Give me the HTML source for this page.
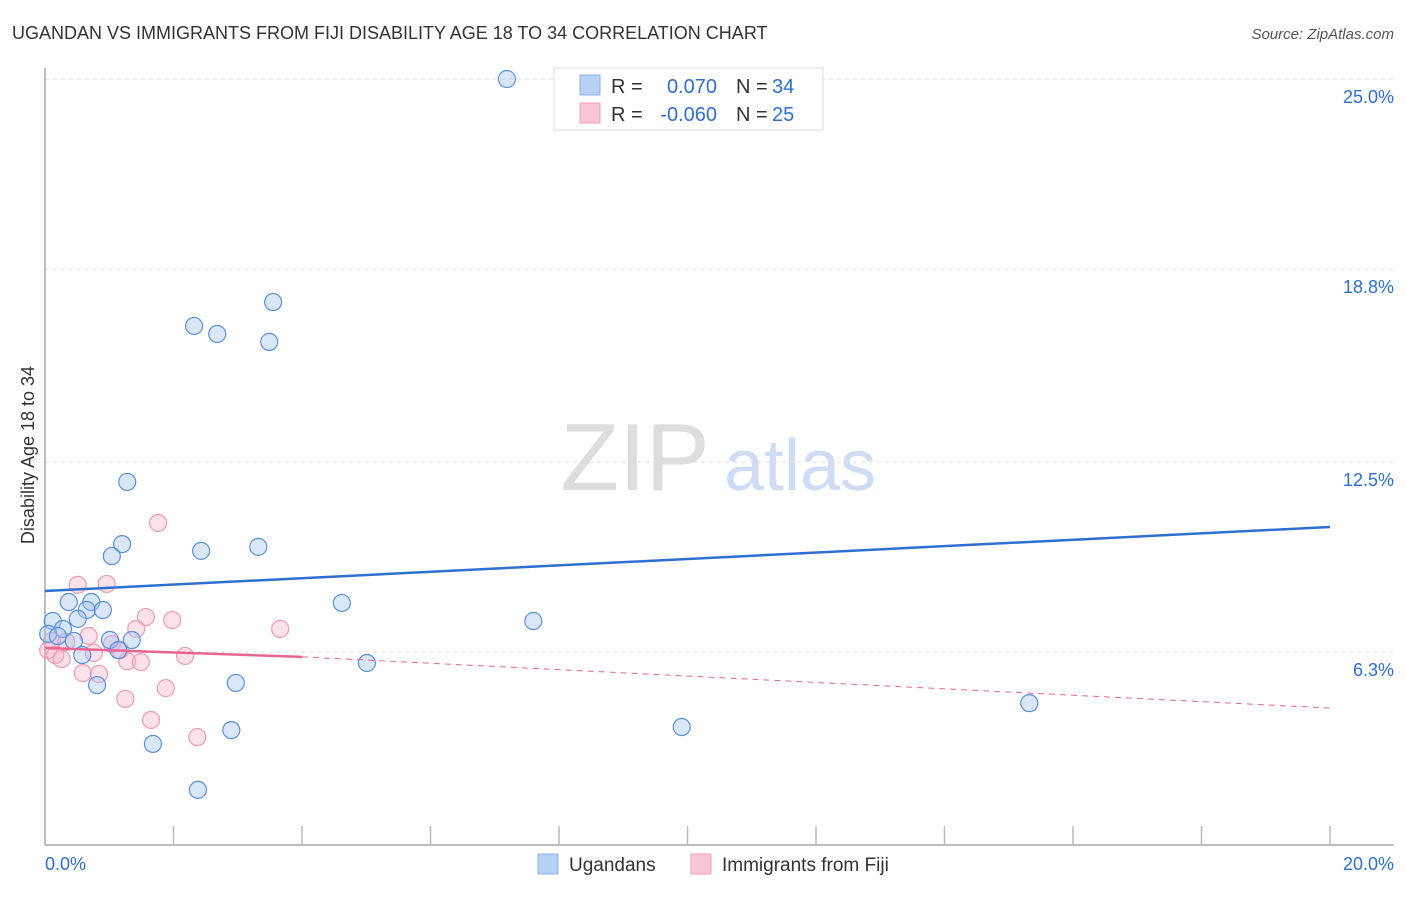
<!DOCTYPE html>
<html><head><meta charset="utf-8"><style>
body{margin:0;background:#fff;font-family:"Liberation Sans",sans-serif;}
svg text{font-family:"Liberation Sans",sans-serif;}
</style></head><body>
<svg id="c" width="1406" height="892" xmlns="http://www.w3.org/2000/svg">
<text x="12" y="39" font-size="18" fill="#333">UGANDAN VS IMMIGRANTS FROM FIJI DISABILITY AGE 18 TO 34 CORRELATION CHART</text>
<text x="1394" y="39" font-size="15" fill="#555" font-style="italic" text-anchor="end">Source: ZipAtlas.com</text>
<text x="34" y="455" font-size="18" fill="#333" text-anchor="middle" transform="rotate(-90 34 455)">Disability Age 18 to 34</text>
<g>
<text x="635" y="490" font-size="96" fill="#ddd" font-family="Liberation Serif" text-anchor="middle">ZIP</text>
<text x="800" y="490" font-size="72" fill="#cfdcf3" text-anchor="middle">atlas</text>
</g>
<g id="grid"></g><g id="axes"></g><g id="marks"></g>
<g>
<rect x="554" y="68" width="269" height="62" fill="#fff" stroke="#ddd"/>
<rect x="580" y="75" width="20" height="20" fill="#b7d1f5" stroke="#8ab0e8"/>
<rect x="580" y="103" width="20" height="20" fill="#f9c6d5" stroke="#f0a0b8"/>
<text x="611" y="93" font-size="20" fill="#333">R =</text><text x="717" y="93" font-size="20" fill="#2f6fd0" text-anchor="end">0.070</text>
<text x="736" y="93" font-size="20" fill="#333">N =</text><text x="772" y="93" font-size="20" fill="#2f6fd0">34</text>
<text x="611" y="121" font-size="20" fill="#333">R =</text><text x="717" y="121" font-size="20" fill="#2f6fd0" text-anchor="end">-0.060</text>
<text x="736" y="121" font-size="20" fill="#333">N =</text><text x="772" y="121" font-size="20" fill="#2f6fd0">25</text>
</g>
<g>
<rect x="538" y="854" width="20" height="20" fill="#b7d1f5" stroke="#8ab0e8"/>
<text x="569" y="871" font-size="19" fill="#333">Ugandans</text>
<rect x="691" y="854" width="20" height="20" fill="#f9c6d5" stroke="#f0a0b8"/>
<text x="722" y="871" font-size="19" fill="#333">Immigrants from Fiji</text>
</g>
</svg>
<script>
const yTicks=[25.0,18.8,12.5,6.3];
const yTickLabels=["25.0%","18.8%","12.5%","6.3%"];
const xTickLabels=["0.0%","20.0%"];
const blueX=[7.19,3.55,2.32,2.68,3.49,1.28,1.20,1.04,2.43,3.32,0.37,0.72,4.62,0.65,0.90,0.51,7.60,0.12,0.28,0.05,0.20,0.45,1.01,1.35,1.14,0.58,5.01,0.81,2.97,9.91,15.32,1.68,2.90,2.38];
const blueY=[25.0,17.72,16.94,16.68,16.42,11.85,9.82,9.43,9.60,9.73,7.93,7.93,7.90,7.67,7.67,7.38,7.31,7.31,7.05,6.89,6.82,6.66,6.69,6.69,6.36,6.20,5.94,5.22,5.29,3.85,4.63,3.30,3.75,1.80];
const pinkX=[1.76,0.51,0.96,1.57,1.98,1.42,3.66,0.68,0.11,0.33,1.04,0.05,0.76,1.17,0.16,0.26,2.18,1.28,1.49,0.59,0.84,1.88,1.25,1.65,2.37];
const pinkY=[10.51,8.49,8.52,7.44,7.34,7.05,7.05,6.82,6.66,6.63,6.56,6.36,6.27,6.36,6.20,6.07,6.17,6.00,5.97,5.61,5.58,5.12,4.77,4.08,3.52];
const blueTrend=[8.29,10.38];
const pinkTrend=[6.43,6.14,4.47];
const pinkSolidEnd=4.0;
const NS="http://www.w3.org/2000/svg";
const X=v=>45+v/20*1285, Y=v=>845-v*30.64;
function mk(t,a,p){const e=document.createElementNS(NS,t);for(const k in a)e.setAttribute(k,a[k]);p.appendChild(e);return e;}
const grid=document.getElementById('grid'),axes=document.getElementById('axes'),marks=document.getElementById('marks');
yTicks.forEach((t,i)=>{
 const l=mk('line',{x1:45,x2:1394,y1:Y(t),y2:Y(t),stroke:'#ddd','stroke-dasharray':'4 4'},grid);
 
 
 const tx=mk('text',{x:1394,y:Y(t)+24,'font-size':18,fill:'#2f6fd0','text-anchor':'end'},axes);
 tx.textContent=yTickLabels[i];
 
 
});
mk('line',{x1:45,x2:45,y1:68,y2:845,stroke:'#aaa','stroke-width':1.5},axes);
mk('line',{x1:45,x2:1394,y1:845,y2:845,stroke:'#aaa','stroke-width':1.5},axes);
for(let i=1;i<=10;i++){const tk=mk('line',{x1:X(i*2),x2:X(i*2),y1:826,y2:845,stroke:'#bbb','stroke-width':1.5},axes);
 
 }
[[45,'start',0],[1394,'end',1]].forEach(([x,a,i])=>{const tx=mk('text',{x:x,y:870,'font-size':18,fill:'#2f6fd0','text-anchor':a},axes);tx.textContent=xTickLabels[i];
 
 });
pinkX.forEach((v,i)=>{const c=mk('circle',{cx:X(v),cy:Y(pinkY[i]),r:8.5,fill:'rgba(246,170,195,0.35)',stroke:'#ef9ab5','stroke-width':1.2},marks);
 
 });
blueX.forEach((v,i)=>{const c=mk('circle',{cx:X(v),cy:Y(blueY[i]),r:8.5,fill:'rgba(160,195,240,0.4)',stroke:'#5a90e0','stroke-width':1.2},marks);
 
 });
const bl=mk('line',{x1:X(0),y1:Y(blueTrend[0]),x2:X(20),y2:Y(blueTrend[1]),stroke:'#2f6fd0','stroke-width':2.5},marks);


const pl=mk('line',{x1:X(0),y1:Y(pinkTrend[0]),x2:X(pinkSolidEnd),y2:Y(pinkTrend[1]),stroke:'#e8658f','stroke-width':2.5},marks);


const pd=mk('line',{x1:X(pinkSolidEnd),y1:Y(pinkTrend[1]),x2:X(20),y2:Y(pinkTrend[2]),stroke:'#e8658f','stroke-width':1,'stroke-dasharray':'6 5'},marks);


</script>
</body></html>
